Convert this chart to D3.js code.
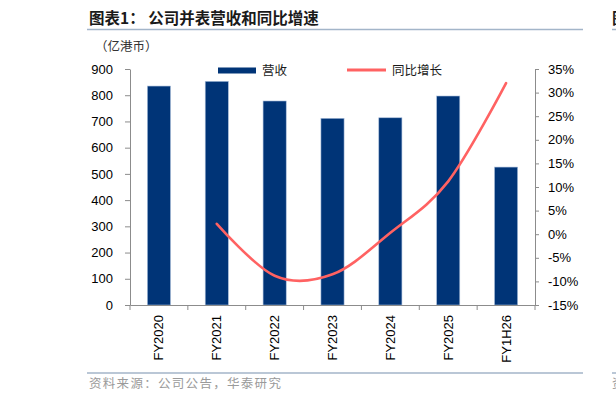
<!DOCTYPE html>
<html lang="zh">
<head>
    <meta charset="UTF-8">
    <title>公司并表营收和同比增速</title>
    <script src="https://d3js.org/d3.v7.min.js"></script>
    <style>
        body {
            margin: 0;
            background: #ffffff;
            font-family: "Liberation Sans", Arial, "Noto Sans CJK SC", sans-serif;
        }
        .cjk {
            font-family: "Noto Sans CJK SC", sans-serif;
        }
        .axis text {
            font-size: 13px;
            fill: #000;
            font-family: "Liberation Sans", Arial, sans-serif;
        }
        .axis path, .axis line {
            stroke: #8c8c8c;
        }
    </style>
</head>
<body>
    <div id="chart"></div>

    <script>
        const categories = ["FY2020", "FY2021", "FY2022", "FY2023", "FY2024", "FY2025", "FY1H26"];
        const revenue = [835, 853, 778, 712, 714, 797, 526];
        const growth = [null, 2.2, -8.8, -8.5, 0.3, 11.2, 32.0];
        const leftTicks = [0, 100, 200, 300, 400, 500, 600, 700, 800, 900];
        const rightTicks = [-15, -10, -5, 0, 5, 10, 15, 20, 25, 30, 35];

        const width = 616;
        const height = 403;
        const plot = { left: 130, right: 535, top: 69, bottom: 305 };

        const svg = d3.select("#chart")
            .append("svg")
            .attr("width", width)
            .attr("height", height);

        // header
        svg.append("text")
            .attr("class", "cjk")
            .attr("x", 89)
            .attr("y", 24)
            .attr("font-size", 15.5)
            .attr("font-weight", "bold")
            .attr("fill", "#1a1a1a")
            .text("图表1：  公司并表营收和同比增速");

        svg.append("line")
            .attr("x1", 87).attr("x2", 583)
            .attr("y1", 29.5).attr("y2", 29.5)
            .attr("stroke", "#a3b5c9")
            .attr("stroke-width", 1.5);

        // clipped neighbour figure on the right edge
        svg.append("text")
            .attr("class", "cjk")
            .attr("x", 612)
            .attr("y", 24)
            .attr("font-size", 15.5)
            .attr("font-weight", "bold")
            .attr("fill", "#1a1a1a")
            .text("图");
        svg.append("line")
            .attr("x1", 612).attr("x2", 616)
            .attr("y1", 29.5).attr("y2", 29.5)
            .attr("stroke", "#a3b5c9")
            .attr("stroke-width", 1.5);

        svg.append("text")
            .attr("class", "cjk")
            .attr("x", 95)
            .attr("y", 51)
            .attr("font-size", 12.5)
            .attr("fill", "#333")
            .text("（亿港币）");

        // scales
        const x = d3.scaleBand()
            .domain(categories)
            .range([plot.left, plot.right])
            .padding(0);

        const yLeft = d3.scaleLinear()
            .domain([0, 900])
            .range([plot.bottom, plot.top]);

        const yRight = d3.scaleLinear()
            .domain([-15, 35])
            .range([plot.bottom, plot.top]);

        const bw = x.bandwidth();
        const barW = bw * 0.4;

        // bars
        svg.append("g")
            .selectAll("rect")
            .data(categories)
            .join("rect")
            .attr("x", d => x(d) + (bw - barW) / 2)
            .attr("y", (d, i) => yLeft(revenue[i]))
            .attr("width", barW)
            .attr("height", (d, i) => plot.bottom - yLeft(revenue[i]))
            .attr("fill", "#003477")
            .attr("stroke", "#a9bedb")
            .attr("stroke-width", 0.6);

        // axes
        svg.append("g")
            .attr("class", "axis")
            .attr("transform", `translate(${plot.left},0)`)
            .call(d3.axisLeft(yLeft).tickValues(leftTicks).tickSize(5).tickPadding(12).tickSizeOuter(0));

        svg.append("g")
            .attr("class", "axis")
            .attr("transform", `translate(${plot.right},0)`)
            .call(d3.axisRight(yRight).tickValues(rightTicks).tickSize(4).tickPadding(9)
                .tickFormat(d => d + "%").tickSizeOuter(0));

        const xAxis = svg.append("g")
            .attr("class", "axis")
            .attr("transform", `translate(0,${plot.bottom})`)
            .call(d3.axisBottom(x).tickSize(0).tickSizeOuter(0));

        xAxis.selectAll(".tick text")
            .attr("transform", "rotate(-90)")
            .attr("text-anchor", "end")
            .attr("x", -10)
            .attr("y", 0)
            .attr("dy", "0.35em");

        // category boundary ticks
        xAxis.selectAll(".sep")
            .data(d3.range(categories.length + 1))
            .join("line")
            .attr("class", "sep")
            .attr("x1", i => plot.left + i * bw)
            .attr("x2", i => plot.left + i * bw)
            .attr("y1", 0)
            .attr("y2", 5)
            .attr("stroke", "#8c8c8c");

        // growth line
        const pts = categories.map((c, i) => ({ c, v: growth[i] })).filter(d => d.v !== null);
        const line = d3.line()
            .x(d => x(d.c) + bw / 2)
            .y(d => yRight(d.v))
            .curve(d3.curveCardinal.tension(0));

        svg.append("path")
            .datum(pts)
            .attr("d", line)
            .attr("fill", "none")
            .attr("stroke", "#ff6262")
            .attr("stroke-width", 2.6)
            .attr("stroke-linecap", "round");

        // legend
        const legend = svg.append("g");
        legend.append("rect")
            .attr("x", 218).attr("y", 67.5)
            .attr("width", 38).attr("height", 6)
            .attr("fill", "#003477");
        legend.append("text")
            .attr("class", "cjk")
            .attr("x", 262).attr("y", 75)
            .attr("font-size", 12.5)
            .attr("fill", "#1a1a1a")
            .text("营收");
        legend.append("line")
            .attr("x1", 347).attr("x2", 386)
            .attr("y1", 70).attr("y2", 70)
            .attr("stroke", "#ff6262")
            .attr("stroke-width", 3);
        legend.append("text")
            .attr("class", "cjk")
            .attr("x", 392).attr("y", 75)
            .attr("font-size", 12.5)
            .attr("fill", "#1a1a1a")
            .text("同比增长");

        // footer
        svg.append("line")
            .attr("x1", 87).attr("x2", 583)
            .attr("y1", 373).attr("y2", 373)
            .attr("stroke", "#a3b5c9")
            .attr("stroke-width", 1.5);
        svg.append("line")
            .attr("x1", 612).attr("x2", 616)
            .attr("y1", 373).attr("y2", 373)
            .attr("stroke", "#a3b5c9")
            .attr("stroke-width", 1.5);
        svg.append("text")
            .attr("class", "cjk")
            .attr("x", 89).attr("y", 388)
            .attr("font-size", 12.5)
            .attr("letter-spacing", 1.3)
            .attr("fill", "#9a9a9a")
            .text("资料来源：公司公告，华泰研究");
        svg.append("text")
            .attr("class", "cjk")
            .attr("x", 612).attr("y", 388)
            .attr("font-size", 12.5)
            .attr("fill", "#9a9a9a")
            .text("资");
    </script>
</body>
</html>
